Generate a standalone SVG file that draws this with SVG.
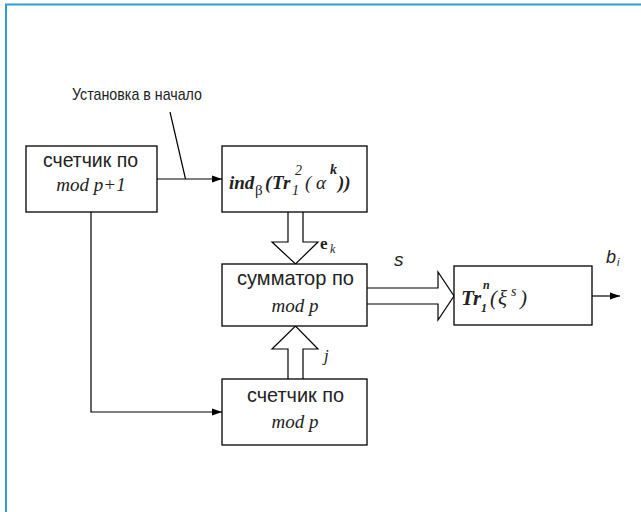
<svg xmlns="http://www.w3.org/2000/svg" width="641" height="512" viewBox="0 0 641 512">
<defs>
<style>
.box{fill:#fff;stroke:#000;stroke-width:1.3}
.ln{fill:none;stroke:#000;stroke-width:1.2}
.ha{fill:#fff;stroke:#000;stroke-width:1.2;stroke-linejoin:miter}
.sans{font-family:"Liberation Sans",Arial,sans-serif;fill:#222}
.bt{font-family:"Liberation Sans",Arial,sans-serif;font-size:21px;fill:#222}
.ser{font-family:"Liberation Serif","Times New Roman",serif;font-style:italic;fill:#222}
.bi{font-family:"Liberation Serif","Times New Roman",serif;font-style:italic;font-weight:bold;fill:#222}
</style>
<marker id="ah" viewBox="0 0 10 10" refX="10" refY="5" markerWidth="10" markerHeight="10" markerUnits="userSpaceOnUse" orient="auto">
<path d="M0,1.5 L10,5 L0,8.5 Z" fill="#000"/>
</marker>
</defs>
<rect width="641" height="512" fill="#fff"/>
<path d="M6,512 V4.5 H641" fill="none" stroke="#2a9fd0" stroke-width="2"/>

<g id="connectors">
<text class="sans" x="72" y="100" font-size="17" textLength="130" lengthAdjust="spacingAndGlyphs">Установка в начало</text>
<line class="ln" x1="170" y1="112" x2="185.5" y2="179"/>
<line class="ln" x1="157" y1="179" x2="222" y2="179" marker-end="url(#ah)"/>
<polyline class="ln" points="91,212 91,412 222,412" marker-end="url(#ah)"/>
<path class="ha" d="M288,212 V242 H272 L295.5,264 L318,242 H303 V212"/>
<text x="320" y="249" font-family="Liberation Serif,serif" font-weight="bold" font-size="17" fill="#222">e</text>
<text class="ser" x="330" y="253" font-size="12">k</text>
<path class="ha" d="M288,379 V349 H272 L295.5,326 L318,349 H303 V379"/>
<text class="ser" x="324" y="361" font-size="17">j</text>
<path class="ha" d="M367,288 H438 V272 L454,296 L438,320 V304 H367"/>
<text class="sans" x="394" y="266" font-style="italic" font-size="19">s</text>
<line class="ln" x1="592" y1="296" x2="620" y2="296" marker-end="url(#ah)"/>
<text class="sans" x="606" y="263" font-style="italic" font-size="18">b</text>
<text class="sans" x="617" y="266" font-style="italic" font-size="11">i</text>
</g>

<g id="counter1">
<rect class="box" x="26" y="146" width="131" height="66"/>
<text class="bt" x="43" y="167" textLength="95" lengthAdjust="spacingAndGlyphs">счетчик по</text>
<text class="ser" x="91" y="191" text-anchor="middle" font-size="19">mod p+1</text>
</g>

<g id="ind">
<rect class="box" x="222" y="146" width="145" height="66"/>
<text class="bi" x="229" y="189" font-size="19">ind</text>
<text x="255" y="195" font-family="Liberation Serif,serif" font-size="15" fill="#222">β</text>
<text class="bi" x="265" y="189" font-size="19">(</text>
<text class="bi" x="272" y="189" font-size="19">Tr</text>
<text class="ser" x="292" y="195" font-size="14">1</text>
<text class="ser" x="295" y="175" font-size="14">2</text>
<text class="ser" x="305" y="189" font-size="19">(</text>
<text class="ser" x="316" y="189" font-size="19">α</text>
<text class="bi" x="330" y="174" font-size="14">k</text>
<text class="bi" x="338" y="189" font-size="19">))</text>
</g>

<g id="adder">
<rect class="box" x="222" y="264" width="145" height="62"/>
<text class="bt" x="237" y="285" textLength="117" lengthAdjust="spacingAndGlyphs">сумматор по</text>
<text class="ser" x="295" y="312" text-anchor="middle" font-size="19">mod p</text>
</g>

<g id="trace">
<rect class="box" x="454" y="266" width="138" height="59"/>
<text class="bi" x="461" y="305" font-size="21">Tr</text>
<text class="bi" x="481" y="312" font-size="12">1</text>
<text class="bi" x="483" y="289" font-size="12">n</text>
<text class="ser" x="490" y="305" font-size="21">(</text>
<text class="ser" x="498" y="305" font-size="21">ξ</text>
<text class="ser" x="511" y="296" font-size="14">s</text>
<text class="ser" x="520" y="305" font-size="21">)</text>
</g>

<g id="counter2">
<rect class="box" x="222" y="379" width="145" height="66"/>
<text class="bt" x="247" y="402" textLength="97" lengthAdjust="spacingAndGlyphs">счетчик по</text>
<text class="ser" x="295" y="428" text-anchor="middle" font-size="19">mod p</text>
</g>
</svg>
